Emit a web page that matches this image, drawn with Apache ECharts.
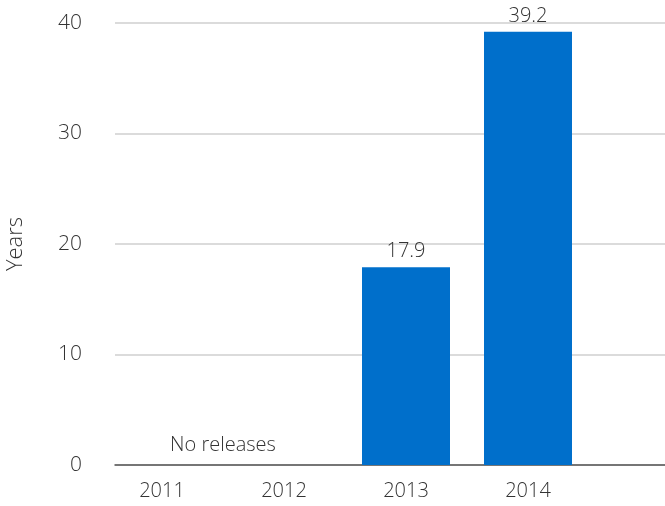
<!DOCTYPE html>
<html lang="en">
<head>
    <meta charset="UTF-8">
    <title>Years</title>
    <script src="https://cdn.jsdelivr.net/npm/echarts@6/dist/echarts.min.js"></script>
    <style>
        html, body { margin: 0; padding: 0; background: #fff; }
    </style>
</head>
<body>
<div id="main" style="width: 665px;height:506px;"></div>
<script type="text/javascript">
    // chart data
    var years = ['2011', '2012', '2013', '2014'];
    var values = [null, null, 17.9, 39.2];
    var yTicks = [0, 10, 20, 30, 40];
    var emptyNote = 'No releases';
    var emptyYears = ['2011', '2012'];

    var textColor = '#333333';
    var fontName = "'Open Sans', 'DejaVu Sans', sans-serif";

    var myChart = echarts.init(document.getElementById('main'));

    var option = {
        animation: false,
        textStyle: { fontFamily: fontName, color: textColor },
        grid: [
            // background grid: gridlines and axis line
            { left: 115, right: 0, top: 23, bottom: 41, outerBoundsMode: 'none', containLabel: false },
            // bars and category labels
            { left: 101, width: 488, top: 23, bottom: 41, outerBoundsMode: 'none', containLabel: false }
        ],
        xAxis: [{
            gridIndex: 0,
            type: 'category',
            data: years,
            axisLine: { show: true, lineStyle: { color: '#555555', width: 1.5 } },
            axisTick: { show: false },
            axisLabel: { show: false },
            splitLine: { show: false }
        }, {
            gridIndex: 1,
            type: 'category',
            data: years,
            axisLine: { show: false },
            axisTick: { show: false },
            axisLabel: {
                color: textColor,
                fontSize: 20,
                fontWeight: 300,
                margin: 16
            }
        }],
        yAxis: [{
            gridIndex: 0,
            type: 'value',
            min: yTicks[0],
            max: yTicks[yTicks.length - 1],
            interval: 10,
            name: 'Years',
            nameLocation: 'middle',
            nameGap: 88,
            nameRotate: 90,
            nameTextStyle: { color: textColor, fontSize: 22, fontWeight: 300 },
            axisLine: { show: false },
            axisTick: { show: false },
            axisLabel: { color: textColor, fontSize: 21, fontWeight: 300, margin: 33 },
            splitLine: { lineStyle: { color: '#cfcfcf', width: 1.5 } }
        }, {
            gridIndex: 1,
            type: 'value',
            min: yTicks[0],
            max: yTicks[yTicks.length - 1],
            show: false
        }],
        series: [{
            type: 'bar',
            xAxisIndex: 1,
            yAxisIndex: 1,
            data: values,
            barWidth: 88,
            itemStyle: { color: '#006FCB' },
            label: {
                show: true,
                position: 'top',
                distance: 6,
                color: textColor,
                fontSize: 20,
                fontWeight: 300,
                fontFamily: fontName
            }
        }]
    };

    myChart.setOption(option);

    // note over the years with no bars
    var p1 = myChart.convertToPixel({ xAxisIndex: 1, yAxisIndex: 1 }, [emptyYears[0], 0]);
    var p2 = myChart.convertToPixel({ xAxisIndex: 1, yAxisIndex: 1 }, [emptyYears[1], 0]);
    myChart.setOption({
        graphic: [{
            type: 'text',
            x: (p1[0] + p2[0]) / 2,
            y: p1[1] - 10,
            style: {
                text: emptyNote,
                fill: textColor,
                font: '300 20px ' + fontName,
                align: 'center',
                verticalAlign: 'bottom'
            }
        }]
    });
</script>
</body>
</html>
